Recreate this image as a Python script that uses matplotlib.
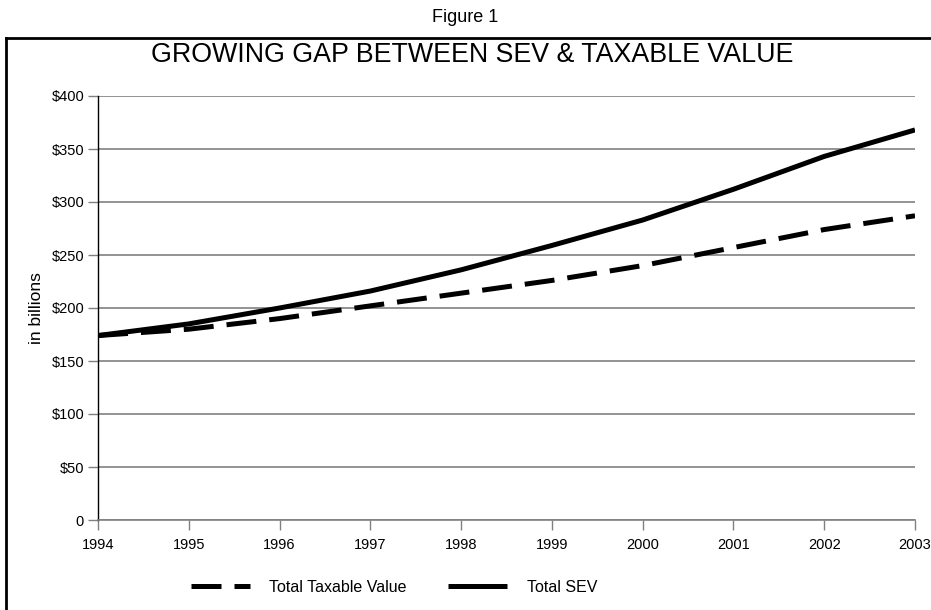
import matplotlib
matplotlib.use("Agg")
import matplotlib.pyplot as plt
from matplotlib.lines import Line2D

# values, in billions of dollars
years = [1994, 1995, 1996, 1997, 1998, 1999, 2000, 2001, 2002, 2003]
total_sev = [174, 185, 200, 216, 236, 259, 283, 312, 343, 368]
total_taxable = [174, 180, 190, 202, 214, 226, 240, 257, 274, 287]
y_ticks = [0, 50, 100, 150, 200, 250, 300, 350, 400]
y_tick_labels = ["0", "$50", "$100", "$150", "$200", "$250", "$300", "$350", "$400"]

plt.rcParams["font.family"] = ["Liberation Sans", "DejaVu Sans"]

fig = plt.figure(figsize=(9.31, 6.10), dpi=100)
ax = fig.add_axes([98 / 931, 1 - 520 / 610, (915 - 98) / 931, (520 - 96) / 610])

grid_color = "#808080"

ax.plot(years, total_taxable, color="black", linewidth=3.6,
        linestyle=(0, (6, 2.6)), dash_capstyle="butt", label="Total Taxable Value")
ax.plot(years, total_sev, color="black", linewidth=3.6,
        solid_capstyle="butt", label="Total SEV")

ax.set_xlim(years[0], years[-1])
ax.set_ylim(0, 400)
ax.set_xticks(years)
ax.set_xticklabels([str(y) for y in years], fontsize=10.5)
ax.set_yticks(y_ticks)
ax.set_yticklabels(y_tick_labels, fontsize=10.5)

ax.yaxis.grid(True, color=grid_color, linewidth=1.2)
ax.set_axisbelow(True)
for side in ["top", "right"]:
    ax.spines[side].set_visible(False)
ax.spines["left"].set_color("black")
ax.spines["left"].set_linewidth(1.0)
ax.spines["bottom"].set_color(grid_color)
ax.spines["bottom"].set_linewidth(1.2)
ax.tick_params(axis="y", direction="out", length=7, width=1.0, color=grid_color, pad=3)
ax.tick_params(axis="x", direction="out", length=7, width=1.0, color=grid_color, pad=6)

ax.set_ylabel("in billions", fontsize=12.5)
ax.yaxis.set_label_coords(-0.066, 0.5)

# title sits centred on the figure, not on the plot area
fig.text(472 / 931, 1 - 62 / 610, "GROWING GAP BETWEEN SEV & TAXABLE VALUE",
         ha="center", va="baseline", fontsize=19.3)

fig.text(0.5, 1 - 18 / 610, "Figure 1", ha="center", va="center", fontsize=13)

# outer frame (runs off the right and bottom of the picture)
fig.add_artist(Line2D([6 / 931, 1.0], [1 - 38 / 610, 1 - 38 / 610],
                      transform=fig.transFigure, color="black", linewidth=2))
fig.add_artist(Line2D([6 / 931, 6 / 931], [0.0, 1 - 38 / 610],
                      transform=fig.transFigure, color="black", linewidth=2))

fig.legend(loc="center", bbox_to_anchor=(394 / 931, 1 - 587 / 610), ncol=2,
           frameon=False, fontsize=11.5, handlelength=3.7, columnspacing=2.6,
           handletextpad=1.2)

fig.savefig("out.png", dpi=100)
